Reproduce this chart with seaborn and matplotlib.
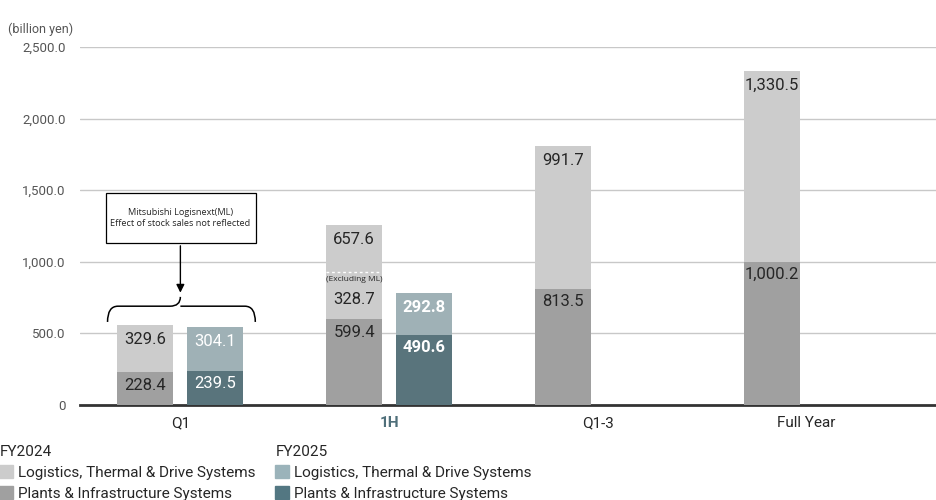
import matplotlib.pyplot as plt
import matplotlib.patches as mpatches
from matplotlib.path import Path
import seaborn as sns
import pandas as pd

sns.set_style("white")
plt.rcParams['font.family'] = ['Roboto', 'DejaVu Sans']

periods = ["Q1", "1H", "Q1-3", "Full Year"]
years = ["FY2024", "FY2025"]
plants_2024 = [228.4, 599.4, 813.5, 1000.2]
logistics_2024 = [329.6, 657.6, 991.7, 1330.5]
plants_2025 = [239.5, 490.6, 0, 0]
logistics_2025 = [304.1, 292.8, 0, 0]
excl_ml_1h = 328.7  # logistics 1H FY2024 excluding ML
yticks = [0, 500, 1000, 1500, 2000, 2500]

c_log24, c_pl24 = "#cccccc", "#a0a0a0"
c_log25, c_pl25 = "#9bb3ba", "#537782"

df = pd.DataFrame({
    "period": periods * 2,
    "year": ["FY2024"] * 4 + ["FY2025"] * 4,
    "plants": plants_2024 + plants_2025,
    "logistics": logistics_2024 + logistics_2025,
})
df["total"] = df["plants"] + df["logistics"]

fig = plt.figure(figsize=(9.36, 5), dpi=100)
ax = fig.add_axes([0.085, 0.19, 0.915, 0.716])

for y in yticks[1:]:
    ax.axhline(y, color="#c8c8c8", lw=1, zorder=0)

sns.barplot(data=df, x="period", y="total", hue="year", order=periods, hue_order=years,
            palette=[c_log24, c_log25], width=0.67, gap=0.2, ax=ax, legend=False,
            errorbar=None, linewidth=0, zorder=2)
sns.barplot(data=df, x="period", y="plants", hue="year", order=periods, hue_order=years,
            palette=[c_pl24, c_pl25], width=0.67, gap=0.2, ax=ax, legend=False,
            errorbar=None, linewidth=0, zorder=3)

off = 0.1675
for i, p in enumerate(periods):
    # FY2024
    ax.annotate(f"{plants_2024[i]:,.1f}", (i - off, plants_2024[i]), xytext=(0, -4),
                textcoords="offset points", ha="center", va="top", fontsize=12, zorder=5)
    ax.annotate(f"{logistics_2024[i]:,.1f}", (i - off, plants_2024[i] + logistics_2024[i]),
                xytext=(0, -5), textcoords="offset points", ha="center", va="top",
                fontsize=12, zorder=5)
    if plants_2025[i] > 0:
        w = "bold" if p == "1H" else "normal"
        ax.annotate(f"{plants_2025[i]:,.1f}", (i + off, plants_2025[i]), xytext=(0, -4),
                    textcoords="offset points", ha="center", va="top", fontsize=12,
                    color="white", fontweight=w, zorder=5)
        ax.annotate(f"{logistics_2025[i]:,.1f}", (i + off, plants_2025[i] + logistics_2025[i]),
                    xytext=(0, -5), textcoords="offset points", ha="center", va="top",
                    fontsize=12, color="white", fontweight=w, zorder=5)

# excluding ML line on 1H FY2024
y_ex = plants_2024[1] + excl_ml_1h
ax.plot([1 - off - 0.134, 1 - off + 0.134], [y_ex, y_ex], color="white", lw=1,
        ls=(0, (2, 2)), zorder=4)
ax.annotate("(Excluding ML)", (1 - off, y_ex), xytext=(0, -3), textcoords="offset points",
            ha="center", va="top", fontsize=6, zorder=5, family=["Open Sans", "DejaVu Sans"])
ax.annotate(f"{excl_ml_1h:,.1f}", (1 - off, y_ex), xytext=(0, -14), textcoords="offset points",
            ha="center", va="top", fontsize=12, zorder=5)

# callout box, arrow and brace over Q1
ax.add_patch(mpatches.Rectangle((-0.354, 1131), 0.718, 349, fill=False, ec="black",
                                lw=0.9, zorder=6, clip_on=False))
ax.text(0, 1305, "Mitsubishi Logisnext(ML)\nEffect of stock sales not reflected",
        ha="center", va="center", fontsize=6.6, linespacing=1.2, zorder=6,
        family=["Open Sans", "DejaVu Sans"])
ax.annotate("", xy=(0, 765), xytext=(0, 1131),
            arrowprops=dict(arrowstyle="-|>", color="black", lw=1, mutation_scale=12))

x0, x1, xc = -0.349, 0.359, 0.0
yl, ym, yt = 580, 690, 755
d = 0.05
verts = [(x0, yl), (x0, ym), (x0 + d, ym), (xc - d, ym), (xc, ym), (xc, yt),
         (xc, ym), (xc + d, ym), (x1 - d, ym), (x1, ym), (x1, yl)]
codes = [Path.MOVETO, Path.CURVE3, Path.CURVE3, Path.LINETO, Path.CURVE3, Path.CURVE3,
         Path.MOVETO, Path.CURVE3, Path.LINETO, Path.CURVE3, Path.CURVE3]
ax.add_patch(mpatches.PathPatch(Path(verts, codes), fill=False, ec="black", lw=1.1))

ax.set_xlim(-0.483, 3.62)
ax.set_ylim(0, 2500)
ax.set_yticks(yticks)
ax.set_yticklabels(["0" if v == 0 else f"{v:,.1f}" for v in yticks])
ax.tick_params(axis="y", length=0, pad=10, labelsize=9.5, labelcolor="#555555")
ax.tick_params(axis="x", length=0, pad=8, labelsize=11)
for t in ax.get_xticklabels():
    if t.get_text() == "1H":
        t.set_color("#4f6f7a")
        t.set_fontweight("bold")
ax.set_xlabel("")
ax.set_ylabel("")
for s in ["top", "right", "left"]:
    ax.spines[s].set_visible(False)
ax.spines["bottom"].set_color("#333333")
ax.spines["bottom"].set_linewidth(2)

fig.text(0.009, 0.942, "(billion yen)", fontsize=9, color="#555555", va="center")

h24 = [mpatches.Patch(color=c_log24, label="Logistics, Thermal & Drive Systems"),
       mpatches.Patch(color=c_pl24, label="Plants & Infrastructure Systems")]
h25 = [mpatches.Patch(color=c_log25, label="Logistics, Thermal & Drive Systems"),
       mpatches.Patch(color=c_pl25, label="Plants & Infrastructure Systems")]
for hs, title, xpos in [(h24, "FY2024", -0.004), (h25, "FY2025", 0.291)]:
    leg = fig.legend(handles=hs, title=title, loc="upper left", bbox_to_anchor=(xpos, 0.117),
                     frameon=False, fontsize=11, title_fontsize=11, alignment="left",
                     handlelength=0.9, handleheight=0.9, handletextpad=0.3,
                     labelspacing=0.42, borderaxespad=0, borderpad=0.2)

fig.savefig("out.png", dpi=100)
